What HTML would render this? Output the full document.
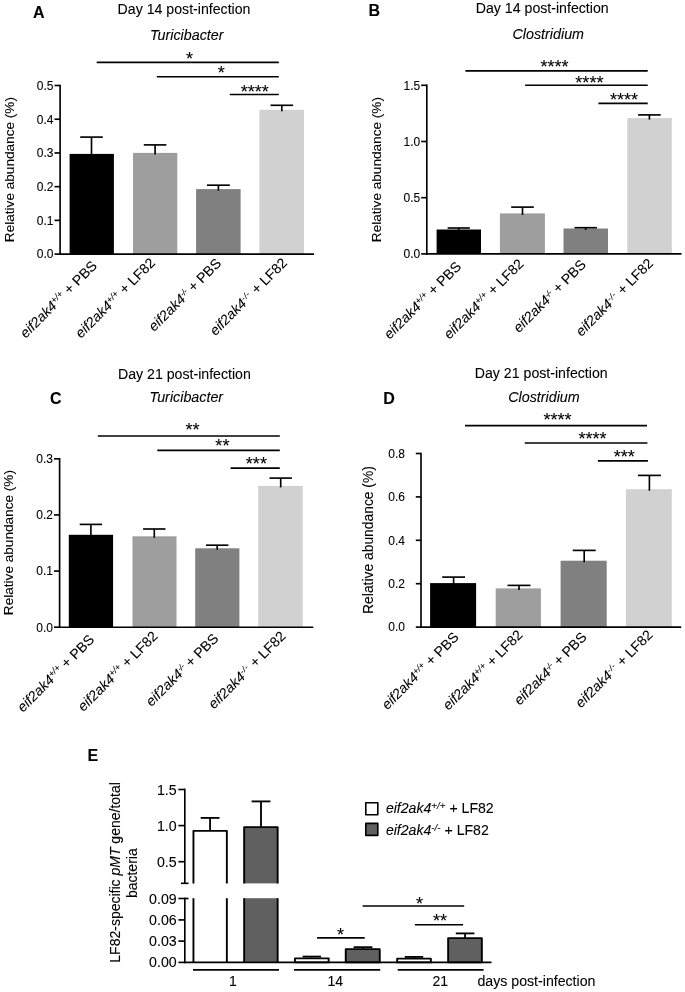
<!DOCTYPE html>
<html lang="en"><head><meta charset="utf-8"><title>Figure</title>
<style>
html,body{margin:0;padding:0;background:#fff;}
body{width:685px;height:992px;overflow:hidden;}
svg{display:block;stroke-linejoin:round;will-change:transform;font-family:"Liberation Sans", sans-serif;fill:#000;}
svg text{stroke:#000;stroke-width:0.1px;}
</style></head><body>
<svg width="685" height="992" viewBox="0 0 685 992">

<rect x="69.60" y="153.90" width="44.30" height="100.20" fill="#000000"/>
<rect x="133.00" y="152.90" width="44.30" height="101.20" fill="#9e9e9e"/>
<rect x="196.10" y="189.10" width="44.50" height="65.00" fill="#808080"/>
<rect x="259.40" y="109.80" width="44.60" height="144.30" fill="#d1d1d1"/>
<line x1="91.50" y1="137.10" x2="91.50" y2="155.40" stroke="#000" stroke-width="1.65" stroke-linecap="butt"/>
<line x1="80.20" y1="137.10" x2="102.80" y2="137.10" stroke="#000" stroke-width="1.65" stroke-linecap="butt"/>
<line x1="155.10" y1="144.90" x2="155.10" y2="154.40" stroke="#000" stroke-width="1.65" stroke-linecap="butt"/>
<line x1="143.80" y1="144.90" x2="166.40" y2="144.90" stroke="#000" stroke-width="1.65" stroke-linecap="butt"/>
<line x1="218.40" y1="185.20" x2="218.40" y2="190.60" stroke="#000" stroke-width="1.65" stroke-linecap="butt"/>
<line x1="207.00" y1="185.20" x2="229.80" y2="185.20" stroke="#000" stroke-width="1.65" stroke-linecap="butt"/>
<line x1="281.80" y1="105.30" x2="281.80" y2="111.30" stroke="#000" stroke-width="1.65" stroke-linecap="butt"/>
<line x1="270.50" y1="105.30" x2="293.10" y2="105.30" stroke="#000" stroke-width="1.65" stroke-linecap="butt"/>
<line x1="60.10" y1="84.67" x2="60.10" y2="254.92" stroke="#000" stroke-width="1.65" stroke-linecap="butt"/>
<line x1="59.27" y1="254.10" x2="314.00" y2="254.10" stroke="#000" stroke-width="1.65" stroke-linecap="butt"/>
<line x1="54.50" y1="85.50" x2="60.10" y2="85.50" stroke="#000" stroke-width="1.65" stroke-linecap="butt"/>
<text x="53.40" y="89.80" font-size="12" text-anchor="end">0.5</text>
<line x1="54.50" y1="119.22" x2="60.10" y2="119.22" stroke="#000" stroke-width="1.65" stroke-linecap="butt"/>
<text x="53.40" y="123.52" font-size="12" text-anchor="end">0.4</text>
<line x1="54.50" y1="152.94" x2="60.10" y2="152.94" stroke="#000" stroke-width="1.65" stroke-linecap="butt"/>
<text x="53.40" y="157.24" font-size="12" text-anchor="end">0.3</text>
<line x1="54.50" y1="186.66" x2="60.10" y2="186.66" stroke="#000" stroke-width="1.65" stroke-linecap="butt"/>
<text x="53.40" y="190.96" font-size="12" text-anchor="end">0.2</text>
<line x1="54.50" y1="220.38" x2="60.10" y2="220.38" stroke="#000" stroke-width="1.65" stroke-linecap="butt"/>
<text x="53.40" y="224.68" font-size="12" text-anchor="end">0.1</text>
<line x1="54.50" y1="254.10" x2="60.10" y2="254.10" stroke="#000" stroke-width="1.65" stroke-linecap="butt"/>
<text x="53.40" y="258.40" font-size="12" text-anchor="end">0.0</text>
<line x1="96.70" y1="62.30" x2="278.80" y2="62.30" stroke="#000" stroke-width="1.65" stroke-linecap="butt"/>
<text x="189.50" y="64.90" font-size="18.1" text-anchor="middle" stroke="none">*</text>
<line x1="156.80" y1="76.70" x2="278.80" y2="76.70" stroke="#000" stroke-width="1.65" stroke-linecap="butt"/>
<text x="221.30" y="79.30" font-size="18.1" text-anchor="middle" stroke="none">*</text>
<line x1="229.80" y1="94.50" x2="278.80" y2="94.50" stroke="#000" stroke-width="1.65" stroke-linecap="butt"/>
<text x="254.80" y="97.50" font-size="18.1" text-anchor="middle" stroke="none">****</text>
<text x="117.60" y="13.60" font-size="14.15" text-anchor="start">Day 14 post-infection</text>
<text x="149.90" y="40.20" font-size="14.3" text-anchor="start" font-style="italic">Turicibacter</text>
<text x="33.00" y="17.60" font-size="16" text-anchor="start" font-weight="bold" stroke="#000" stroke-width="0.45">A</text>
<text transform="translate(14.40,169.60) rotate(-90)" font-size="13.6" text-anchor="middle">Relative abundance (%)</text>
<text transform="translate(97.90,266.60) rotate(-45)" font-size="14" text-anchor="end"><tspan font-style="italic">eif2ak4</tspan><tspan font-style="italic" font-size="9" dy="-4.6">+/+</tspan><tspan dy="4.6" letter-spacing="0"> + PBS</tspan></text>
<text transform="translate(156.00,263.70) rotate(-45)" font-size="14" text-anchor="end"><tspan font-style="italic">eif2ak4</tspan><tspan font-style="italic" font-size="9" dy="-4.6">+/+</tspan><tspan dy="4.6" letter-spacing="0"> + LF82</tspan></text>
<text transform="translate(222.00,264.20) rotate(-45)" font-size="14" text-anchor="end"><tspan font-style="italic">eif2ak4</tspan><tspan font-style="italic" font-size="8" letter-spacing="-0.3" dy="-4.6">-/-</tspan><tspan dy="4.6" letter-spacing="0"> + PBS</tspan></text>
<text transform="translate(288.00,263.70) rotate(-45)" font-size="14" text-anchor="end"><tspan font-style="italic">eif2ak4</tspan><tspan font-style="italic" font-size="8" letter-spacing="0.7" dy="-4.6">-/-</tspan><tspan dy="4.6" letter-spacing="0"> + LF82</tspan></text>
<rect x="436.60" y="229.50" width="44.40" height="24.40" fill="#000000"/>
<rect x="499.90" y="213.40" width="45.00" height="40.50" fill="#9e9e9e"/>
<rect x="563.50" y="228.50" width="44.50" height="25.40" fill="#808080"/>
<rect x="627.30" y="118.10" width="44.50" height="135.80" fill="#d1d1d1"/>
<line x1="458.70" y1="228.00" x2="458.70" y2="231.00" stroke="#000" stroke-width="1.65" stroke-linecap="butt"/>
<line x1="447.60" y1="228.00" x2="469.80" y2="228.00" stroke="#000" stroke-width="1.65" stroke-linecap="butt"/>
<line x1="522.50" y1="207.10" x2="522.50" y2="214.90" stroke="#000" stroke-width="1.65" stroke-linecap="butt"/>
<line x1="511.20" y1="207.10" x2="533.80" y2="207.10" stroke="#000" stroke-width="1.65" stroke-linecap="butt"/>
<line x1="585.70" y1="227.70" x2="585.70" y2="230.00" stroke="#000" stroke-width="1.65" stroke-linecap="butt"/>
<line x1="574.50" y1="227.70" x2="596.90" y2="227.70" stroke="#000" stroke-width="1.65" stroke-linecap="butt"/>
<line x1="649.40" y1="114.90" x2="649.40" y2="119.60" stroke="#000" stroke-width="1.65" stroke-linecap="butt"/>
<line x1="638.10" y1="114.90" x2="660.70" y2="114.90" stroke="#000" stroke-width="1.65" stroke-linecap="butt"/>
<line x1="426.80" y1="84.47" x2="426.80" y2="254.72" stroke="#000" stroke-width="1.65" stroke-linecap="butt"/>
<line x1="425.98" y1="253.90" x2="681.50" y2="253.90" stroke="#000" stroke-width="1.65" stroke-linecap="butt"/>
<line x1="421.20" y1="85.30" x2="426.80" y2="85.30" stroke="#000" stroke-width="1.65" stroke-linecap="butt"/>
<text x="420.20" y="89.60" font-size="12" text-anchor="end">1.5</text>
<line x1="421.20" y1="141.50" x2="426.80" y2="141.50" stroke="#000" stroke-width="1.65" stroke-linecap="butt"/>
<text x="420.20" y="145.80" font-size="12" text-anchor="end">1.0</text>
<line x1="421.20" y1="197.70" x2="426.80" y2="197.70" stroke="#000" stroke-width="1.65" stroke-linecap="butt"/>
<text x="420.20" y="202.00" font-size="12" text-anchor="end">0.5</text>
<line x1="421.20" y1="253.90" x2="426.80" y2="253.90" stroke="#000" stroke-width="1.65" stroke-linecap="butt"/>
<text x="420.20" y="258.20" font-size="12" text-anchor="end">0.0</text>
<line x1="465.40" y1="70.80" x2="647.70" y2="70.80" stroke="#000" stroke-width="1.65" stroke-linecap="butt"/>
<text x="554.50" y="73.20" font-size="18.1" text-anchor="middle" stroke="none">****</text>
<line x1="525.10" y1="85.20" x2="647.70" y2="85.20" stroke="#000" stroke-width="1.65" stroke-linecap="butt"/>
<text x="589.40" y="88.70" font-size="18.1" text-anchor="middle" stroke="none">****</text>
<line x1="598.40" y1="103.30" x2="647.70" y2="103.30" stroke="#000" stroke-width="1.65" stroke-linecap="butt"/>
<text x="624.00" y="105.60" font-size="18.1" text-anchor="middle" stroke="none">****</text>
<text x="475.80" y="13.10" font-size="14.15" text-anchor="start">Day 14 post-infection</text>
<text x="512.50" y="38.80" font-size="14.3" text-anchor="start" font-style="italic">Clostridium</text>
<text x="368.40" y="16.30" font-size="16" text-anchor="start" font-weight="bold" stroke="#000" stroke-width="0.45">B</text>
<text transform="translate(381.30,169.60) rotate(-90)" font-size="13.6" text-anchor="middle">Relative abundance (%)</text>
<text transform="translate(462.00,267.50) rotate(-45)" font-size="14" text-anchor="end"><tspan font-style="italic">eif2ak4</tspan><tspan font-style="italic" font-size="9" dy="-4.6">+/+</tspan><tspan dy="4.6" letter-spacing="0"> + PBS</tspan></text>
<text transform="translate(524.50,264.70) rotate(-45)" font-size="14" text-anchor="end"><tspan font-style="italic">eif2ak4</tspan><tspan font-style="italic" font-size="9" dy="-4.6">+/+</tspan><tspan dy="4.6" letter-spacing="0"> + LF82</tspan></text>
<text transform="translate(586.80,265.50) rotate(-45)" font-size="14" text-anchor="end"><tspan font-style="italic">eif2ak4</tspan><tspan font-style="italic" font-size="8" letter-spacing="-0.3" dy="-4.6">-/-</tspan><tspan dy="4.6" letter-spacing="0"> + PBS</tspan></text>
<text transform="translate(654.00,264.30) rotate(-45)" font-size="14" text-anchor="end"><tspan font-style="italic">eif2ak4</tspan><tspan font-style="italic" font-size="8" letter-spacing="0.7" dy="-4.6">-/-</tspan><tspan dy="4.6" letter-spacing="0"> + LF82</tspan></text>
<rect x="68.80" y="534.80" width="44.30" height="92.40" fill="#000000"/>
<rect x="132.50" y="536.30" width="44.00" height="90.90" fill="#9e9e9e"/>
<rect x="195.20" y="548.30" width="44.20" height="78.90" fill="#808080"/>
<rect x="258.20" y="485.90" width="44.60" height="141.30" fill="#d1d1d1"/>
<line x1="90.90" y1="524.40" x2="90.90" y2="536.30" stroke="#000" stroke-width="1.65" stroke-linecap="butt"/>
<line x1="79.70" y1="524.40" x2="102.10" y2="524.40" stroke="#000" stroke-width="1.65" stroke-linecap="butt"/>
<line x1="154.30" y1="529.00" x2="154.30" y2="537.80" stroke="#000" stroke-width="1.65" stroke-linecap="butt"/>
<line x1="143.10" y1="529.00" x2="165.50" y2="529.00" stroke="#000" stroke-width="1.65" stroke-linecap="butt"/>
<line x1="217.20" y1="545.20" x2="217.20" y2="549.80" stroke="#000" stroke-width="1.65" stroke-linecap="butt"/>
<line x1="206.00" y1="545.20" x2="228.40" y2="545.20" stroke="#000" stroke-width="1.65" stroke-linecap="butt"/>
<line x1="280.70" y1="478.10" x2="280.70" y2="487.40" stroke="#000" stroke-width="1.65" stroke-linecap="butt"/>
<line x1="269.50" y1="478.10" x2="291.90" y2="478.10" stroke="#000" stroke-width="1.65" stroke-linecap="butt"/>
<line x1="59.60" y1="457.98" x2="59.60" y2="628.03" stroke="#000" stroke-width="1.65" stroke-linecap="butt"/>
<line x1="58.77" y1="627.20" x2="313.30" y2="627.20" stroke="#000" stroke-width="1.65" stroke-linecap="butt"/>
<line x1="54.00" y1="458.80" x2="59.60" y2="458.80" stroke="#000" stroke-width="1.65" stroke-linecap="butt"/>
<text x="52.90" y="463.10" font-size="12" text-anchor="end">0.3</text>
<line x1="54.00" y1="514.93" x2="59.60" y2="514.93" stroke="#000" stroke-width="1.65" stroke-linecap="butt"/>
<text x="52.90" y="519.23" font-size="12" text-anchor="end">0.2</text>
<line x1="54.00" y1="571.07" x2="59.60" y2="571.07" stroke="#000" stroke-width="1.65" stroke-linecap="butt"/>
<text x="52.90" y="575.37" font-size="12" text-anchor="end">0.1</text>
<line x1="54.00" y1="627.20" x2="59.60" y2="627.20" stroke="#000" stroke-width="1.65" stroke-linecap="butt"/>
<text x="52.90" y="631.50" font-size="12" text-anchor="end">0.0</text>
<line x1="97.80" y1="436.00" x2="279.80" y2="436.00" stroke="#000" stroke-width="1.65" stroke-linecap="butt"/>
<text x="192.60" y="435.80" font-size="18.1" text-anchor="middle" stroke="none">**</text>
<line x1="157.30" y1="450.30" x2="279.80" y2="450.30" stroke="#000" stroke-width="1.65" stroke-linecap="butt"/>
<text x="222.40" y="451.50" font-size="18.1" text-anchor="middle" stroke="none">**</text>
<line x1="230.60" y1="468.10" x2="279.80" y2="468.10" stroke="#000" stroke-width="1.65" stroke-linecap="butt"/>
<text x="256.40" y="470.30" font-size="18.1" text-anchor="middle" stroke="none">***</text>
<text x="118.00" y="378.50" font-size="14.15" text-anchor="start">Day 21 post-infection</text>
<text x="149.50" y="402.00" font-size="14.3" text-anchor="start" font-style="italic">Turicibacter</text>
<text x="50.10" y="403.60" font-size="16" text-anchor="start" font-weight="bold" stroke="#000" stroke-width="0.45">C</text>
<text transform="translate(13.00,542.60) rotate(-90)" font-size="13.6" text-anchor="middle">Relative abundance (%)</text>
<text transform="translate(95.20,640.50) rotate(-45)" font-size="14" text-anchor="end"><tspan font-style="italic">eif2ak4</tspan><tspan font-style="italic" font-size="9" dy="-4.6">+/+</tspan><tspan dy="4.6" letter-spacing="0"> + PBS</tspan></text>
<text transform="translate(158.50,637.00) rotate(-45)" font-size="14" text-anchor="end"><tspan font-style="italic">eif2ak4</tspan><tspan font-style="italic" font-size="9" dy="-4.6">+/+</tspan><tspan dy="4.6" letter-spacing="0"> + LF82</tspan></text>
<text transform="translate(219.30,639.30) rotate(-45)" font-size="14" text-anchor="end"><tspan font-style="italic">eif2ak4</tspan><tspan font-style="italic" font-size="8" letter-spacing="-0.3" dy="-4.6">-/-</tspan><tspan dy="4.6" letter-spacing="0"> + PBS</tspan></text>
<text transform="translate(286.60,637.00) rotate(-45)" font-size="14" text-anchor="end"><tspan font-style="italic">eif2ak4</tspan><tspan font-style="italic" font-size="8" letter-spacing="0.7" dy="-4.6">-/-</tspan><tspan dy="4.6" letter-spacing="0"> + LF82</tspan></text>
<rect x="430.10" y="583.10" width="46.00" height="44.00" fill="#000000"/>
<rect x="495.70" y="588.40" width="45.20" height="38.70" fill="#9e9e9e"/>
<rect x="560.60" y="560.70" width="46.10" height="66.40" fill="#808080"/>
<rect x="625.90" y="489.20" width="45.90" height="137.90" fill="#d1d1d1"/>
<line x1="453.60" y1="577.10" x2="453.60" y2="584.60" stroke="#000" stroke-width="1.65" stroke-linecap="butt"/>
<line x1="442.20" y1="577.10" x2="465.00" y2="577.10" stroke="#000" stroke-width="1.65" stroke-linecap="butt"/>
<line x1="519.00" y1="585.40" x2="519.00" y2="589.90" stroke="#000" stroke-width="1.65" stroke-linecap="butt"/>
<line x1="507.50" y1="585.40" x2="530.50" y2="585.40" stroke="#000" stroke-width="1.65" stroke-linecap="butt"/>
<line x1="584.20" y1="550.40" x2="584.20" y2="562.20" stroke="#000" stroke-width="1.65" stroke-linecap="butt"/>
<line x1="572.70" y1="550.40" x2="595.70" y2="550.40" stroke="#000" stroke-width="1.65" stroke-linecap="butt"/>
<line x1="649.40" y1="475.40" x2="649.40" y2="490.70" stroke="#000" stroke-width="1.65" stroke-linecap="butt"/>
<line x1="637.90" y1="475.40" x2="660.90" y2="475.40" stroke="#000" stroke-width="1.65" stroke-linecap="butt"/>
<line x1="421.00" y1="452.68" x2="421.00" y2="627.93" stroke="#000" stroke-width="1.65" stroke-linecap="butt"/>
<line x1="420.18" y1="627.10" x2="681.20" y2="627.10" stroke="#000" stroke-width="1.65" stroke-linecap="butt"/>
<line x1="415.80" y1="453.50" x2="421.00" y2="453.50" stroke="#000" stroke-width="1.65" stroke-linecap="butt"/>
<text x="404.90" y="457.80" font-size="12" text-anchor="end">0.8</text>
<line x1="415.80" y1="496.90" x2="421.00" y2="496.90" stroke="#000" stroke-width="1.65" stroke-linecap="butt"/>
<text x="404.90" y="501.20" font-size="12" text-anchor="end">0.6</text>
<line x1="415.80" y1="540.30" x2="421.00" y2="540.30" stroke="#000" stroke-width="1.65" stroke-linecap="butt"/>
<text x="404.90" y="544.60" font-size="12" text-anchor="end">0.4</text>
<line x1="415.80" y1="583.70" x2="421.00" y2="583.70" stroke="#000" stroke-width="1.65" stroke-linecap="butt"/>
<text x="404.90" y="588.00" font-size="12" text-anchor="end">0.2</text>
<line x1="415.80" y1="627.10" x2="421.00" y2="627.10" stroke="#000" stroke-width="1.65" stroke-linecap="butt"/>
<text x="404.90" y="631.40" font-size="12" text-anchor="end">0.0</text>
<line x1="465.00" y1="425.60" x2="647.00" y2="425.60" stroke="#000" stroke-width="1.65" stroke-linecap="butt"/>
<text x="557.50" y="426.10" font-size="18.1" text-anchor="middle" stroke="none">****</text>
<line x1="524.80" y1="443.00" x2="647.40" y2="443.00" stroke="#000" stroke-width="1.65" stroke-linecap="butt"/>
<text x="592.50" y="444.50" font-size="18.1" text-anchor="middle" stroke="none">****</text>
<line x1="597.90" y1="460.80" x2="647.90" y2="460.80" stroke="#000" stroke-width="1.65" stroke-linecap="butt"/>
<text x="624.30" y="463.10" font-size="18.1" text-anchor="middle" stroke="none">***</text>
<text x="474.80" y="377.60" font-size="14.15" text-anchor="start">Day 21 post-infection</text>
<text x="508.20" y="401.50" font-size="14.3" text-anchor="start" font-style="italic">Clostridium</text>
<text x="383.30" y="404.00" font-size="16" text-anchor="start" font-weight="bold" stroke="#000" stroke-width="0.45">D</text>
<text transform="translate(373.00,540.00) rotate(-90)" font-size="13.85" text-anchor="middle">Relative abundance (%)</text>
<text transform="translate(459.60,638.00) rotate(-45)" font-size="14" text-anchor="end"><tspan font-style="italic">eif2ak4</tspan><tspan font-style="italic" font-size="9" dy="-4.6">+/+</tspan><tspan dy="4.6" letter-spacing="0"> + PBS</tspan></text>
<text transform="translate(523.60,635.80) rotate(-45)" font-size="14" text-anchor="end"><tspan font-style="italic">eif2ak4</tspan><tspan font-style="italic" font-size="9" dy="-4.6">+/+</tspan><tspan dy="4.6" letter-spacing="0"> + LF82</tspan></text>
<text transform="translate(587.50,638.00) rotate(-45)" font-size="14" text-anchor="end"><tspan font-style="italic">eif2ak4</tspan><tspan font-style="italic" font-size="8" letter-spacing="-0.3" dy="-4.6">-/-</tspan><tspan dy="4.6" letter-spacing="0"> + PBS</tspan></text>
<text transform="translate(653.60,635.80) rotate(-45)" font-size="14" text-anchor="end"><tspan font-style="italic">eif2ak4</tspan><tspan font-style="italic" font-size="8" letter-spacing="0.7" dy="-4.6">-/-</tspan><tspan dy="4.6" letter-spacing="0"> + LF82</tspan></text>
<rect x="193.45" y="830.85" width="33.40" height="52.55" fill="#fff"/>
<path d="M193.45,883.40 V830.85 H226.85 V883.40" fill="none" stroke="#000" stroke-width="1.9"/>
<rect x="193.45" y="898.20" width="33.40" height="64.20" fill="#fff"/>
<line x1="193.45" y1="898.20" x2="193.45" y2="962.40" stroke="#000" stroke-width="1.9" stroke-linecap="butt"/>
<line x1="226.85" y1="898.20" x2="226.85" y2="962.40" stroke="#000" stroke-width="1.9" stroke-linecap="butt"/>
<rect x="244.15" y="827.15" width="33.50" height="56.25" fill="#606060"/>
<path d="M244.15,883.40 V827.15 H277.65 V883.40" fill="none" stroke="#000" stroke-width="1.9"/>
<rect x="244.15" y="898.20" width="33.50" height="64.20" fill="#606060"/>
<line x1="244.15" y1="898.20" x2="244.15" y2="962.40" stroke="#000" stroke-width="1.9" stroke-linecap="butt"/>
<line x1="277.65" y1="898.20" x2="277.65" y2="962.40" stroke="#000" stroke-width="1.9" stroke-linecap="butt"/>
<rect x="294.95" y="958.35" width="33.70" height="4.05" fill="#fff" stroke="#000" stroke-width="1.9"/>
<rect x="345.75" y="949.15" width="34.00" height="13.25" fill="#606060" stroke="#000" stroke-width="1.9"/>
<rect x="397.15" y="958.65" width="33.70" height="3.75" fill="#fff" stroke="#000" stroke-width="1.9"/>
<rect x="448.15" y="938.15" width="33.70" height="24.25" fill="#606060" stroke="#000" stroke-width="1.9"/>
<line x1="210.10" y1="817.90" x2="210.10" y2="831.00" stroke="#000" stroke-width="1.85" stroke-linecap="butt"/>
<line x1="200.70" y1="817.90" x2="219.50" y2="817.90" stroke="#000" stroke-width="1.85" stroke-linecap="butt"/>
<line x1="261.00" y1="801.40" x2="261.00" y2="827.00" stroke="#000" stroke-width="1.85" stroke-linecap="butt"/>
<line x1="251.60" y1="801.40" x2="270.40" y2="801.40" stroke="#000" stroke-width="1.85" stroke-linecap="butt"/>
<line x1="311.80" y1="956.60" x2="311.80" y2="957.90" stroke="#000" stroke-width="1.85" stroke-linecap="butt"/>
<line x1="302.60" y1="956.60" x2="321.00" y2="956.60" stroke="#000" stroke-width="1.85" stroke-linecap="butt"/>
<line x1="363.00" y1="947.20" x2="363.00" y2="948.70" stroke="#000" stroke-width="1.85" stroke-linecap="butt"/>
<line x1="353.60" y1="947.20" x2="372.40" y2="947.20" stroke="#000" stroke-width="1.85" stroke-linecap="butt"/>
<line x1="414.00" y1="956.90" x2="414.00" y2="958.20" stroke="#000" stroke-width="1.85" stroke-linecap="butt"/>
<line x1="404.80" y1="956.90" x2="423.20" y2="956.90" stroke="#000" stroke-width="1.85" stroke-linecap="butt"/>
<line x1="465.10" y1="933.40" x2="465.10" y2="938.00" stroke="#000" stroke-width="1.85" stroke-linecap="butt"/>
<line x1="455.80" y1="933.40" x2="474.40" y2="933.40" stroke="#000" stroke-width="1.85" stroke-linecap="butt"/>
<line x1="184.80" y1="788.67" x2="184.80" y2="883.30" stroke="#000" stroke-width="1.65" stroke-linecap="butt"/>
<line x1="180.90" y1="883.30" x2="188.50" y2="883.30" stroke="#000" stroke-width="1.65" stroke-linecap="butt"/>
<line x1="184.80" y1="897.67" x2="184.80" y2="963.23" stroke="#000" stroke-width="1.65" stroke-linecap="butt"/>
<line x1="183.98" y1="962.40" x2="491.50" y2="962.40" stroke="#000" stroke-width="1.65" stroke-linecap="butt"/>
<line x1="178.40" y1="789.50" x2="184.80" y2="789.50" stroke="#000" stroke-width="1.65" stroke-linecap="butt"/>
<text x="176.70" y="794.50" font-size="14.2" text-anchor="end">1.5</text>
<line x1="178.40" y1="825.60" x2="184.80" y2="825.60" stroke="#000" stroke-width="1.65" stroke-linecap="butt"/>
<text x="176.70" y="830.60" font-size="14.2" text-anchor="end">1.0</text>
<line x1="178.40" y1="861.70" x2="184.80" y2="861.70" stroke="#000" stroke-width="1.65" stroke-linecap="butt"/>
<text x="176.70" y="866.70" font-size="14.2" text-anchor="end">0.5</text>
<line x1="178.40" y1="898.50" x2="184.80" y2="898.50" stroke="#000" stroke-width="1.65" stroke-linecap="butt"/>
<text x="176.70" y="903.50" font-size="14.2" text-anchor="end">0.09</text>
<line x1="178.40" y1="919.90" x2="184.80" y2="919.90" stroke="#000" stroke-width="1.65" stroke-linecap="butt"/>
<text x="176.70" y="924.90" font-size="14.2" text-anchor="end">0.06</text>
<line x1="178.40" y1="941.10" x2="184.80" y2="941.10" stroke="#000" stroke-width="1.65" stroke-linecap="butt"/>
<text x="176.70" y="946.10" font-size="14.2" text-anchor="end">0.03</text>
<line x1="178.40" y1="962.40" x2="184.80" y2="962.40" stroke="#000" stroke-width="1.65" stroke-linecap="butt"/>
<text x="176.70" y="967.40" font-size="14.2" text-anchor="end">0.00</text>
<line x1="184.80" y1="898.50" x2="188.50" y2="898.50" stroke="#000" stroke-width="1.65" stroke-linecap="butt"/>
<line x1="193.00" y1="969.80" x2="279.00" y2="969.80" stroke="#000" stroke-width="1.65" stroke-linecap="butt"/>
<text x="233.00" y="985.60" font-size="14" text-anchor="middle">1</text>
<line x1="294.00" y1="969.80" x2="380.20" y2="969.80" stroke="#000" stroke-width="1.65" stroke-linecap="butt"/>
<text x="335.20" y="985.60" font-size="14" text-anchor="middle">14</text>
<line x1="397.70" y1="969.80" x2="483.60" y2="969.80" stroke="#000" stroke-width="1.65" stroke-linecap="butt"/>
<text x="440.20" y="985.60" font-size="14" text-anchor="middle">21</text>
<text x="477.50" y="985.70" font-size="14.15" text-anchor="start">days post-infection</text>
<line x1="317.10" y1="937.80" x2="364.70" y2="937.80" stroke="#000" stroke-width="1.65" stroke-linecap="butt"/>
<text x="340.40" y="941.30" font-size="18.1" text-anchor="middle" stroke="none">*</text>
<line x1="362.60" y1="906.00" x2="464.20" y2="906.00" stroke="#000" stroke-width="1.65" stroke-linecap="butt"/>
<text x="419.60" y="909.70" font-size="18.1" text-anchor="middle" stroke="none">*</text>
<line x1="414.90" y1="924.70" x2="463.10" y2="924.70" stroke="#000" stroke-width="1.65" stroke-linecap="butt"/>
<text x="440.10" y="926.70" font-size="18.1" text-anchor="middle" stroke="none">**</text>
<text transform="translate(119.7,872.4) rotate(-90)" font-size="14" text-anchor="middle">LF82-specific <tspan font-style="italic">pMT</tspan> gene/total</text>
<text transform="translate(136.8,873.2) rotate(-90)" font-size="14" text-anchor="middle">bacteria</text>
<text x="87.50" y="760.60" font-size="16" text-anchor="start" font-weight="bold" stroke="#000" stroke-width="0.45">E</text>
<rect x="365.8" y="802.8" width="12" height="12" fill="#fff" stroke="#000" stroke-width="1.6"/>
<rect x="365.8" y="823.4" width="12" height="12" fill="#606060" stroke="#000" stroke-width="1.6"/>
<text x="385.9" y="813.1" font-size="14.1"><tspan font-style="italic">eif2ak4</tspan><tspan font-style="italic" font-size="9.8" dy="-4">+/+</tspan><tspan dy="4"> + LF82</tspan></text>
<text x="385.9" y="834.7" font-size="14.1"><tspan font-style="italic">eif2ak4</tspan><tspan font-style="italic" font-size="9.8" dy="-4">-/-</tspan><tspan dy="4"> + LF82</tspan></text>
</svg>
</body></html>
